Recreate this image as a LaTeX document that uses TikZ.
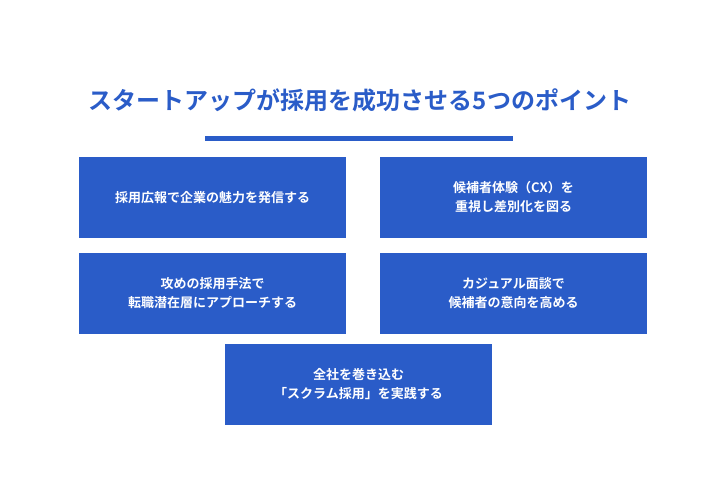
\documentclass[tikz,border=0pt]{standalone}
\usepackage{fontspec}
\newfontfamily\cjk{Noto Sans CJK JP Bold}
\definecolor{mainblue}{HTML}{2A5CC8}
\begin{document}
\begin{tikzpicture}[x=1pt,y=1pt,
  card/.style={fill=mainblue,draw=none,minimum width=267pt,minimum height=81pt,text=white,font=\cjk\fontsize{13}{19}\selectfont,align=center,inner sep=0pt}]
\useasboundingbox (0,0) rectangle (720,480);
\fill[white] (0,0) rectangle (720,480);
\node[text=mainblue,font=\cjk\fontsize{24}{28}\selectfont] (title) at (360,380) {スタートアップが採用を成功させる5つのポイント};
\fill[mainblue] (205,338.5) rectangle (513,343.5);
\node[card] (a) at (212.5,282.5) {採用広報で企業の魅力を発信する};
\node[card] (b) at (513.5,282.5) {候補者体験（CX）を\\重視し差別化を図る};
\node[card] (c) at (212.5,186.5) {攻めの採用手法で\\転職潜在層にアプローチする};
\node[card] (d) at (513.5,186.5) {カジュアル面談で\\候補者の意向を高める};
\node[card] (e) at (358.5,95.5) {全社を巻き込む\\「スクラム採用」を実践する};
\end{tikzpicture}
\end{document}
